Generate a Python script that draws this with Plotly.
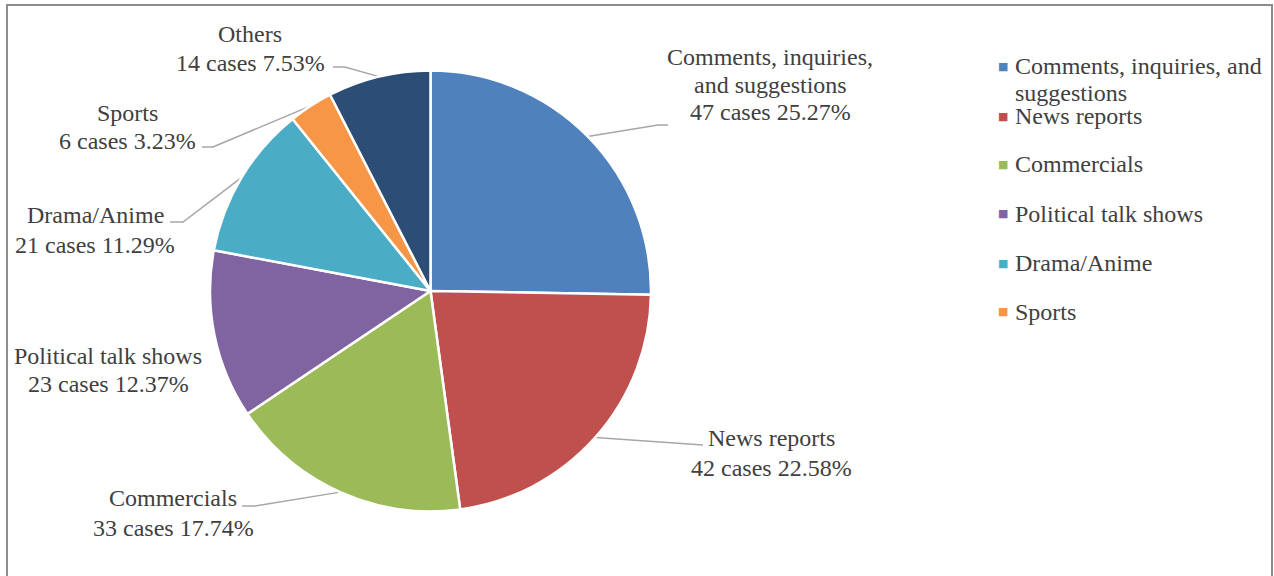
import math
import plotly.graph_objects as go

# ---------------- data ----------------
categories = ["Comments, inquiries, and suggestions", "News reports", "Commercials",
              "Political talk shows", "Drama/Anime", "Sports", "Others"]
cases = [47, 42, 33, 23, 21, 6, 14]
label_lines = [["Comments, inquiries,", "and suggestions"], ["News reports"], ["Commercials"],
               ["Political talk shows"], ["Drama/Anime"], ["Sports"], ["Others"]]
legend_lines = [["Comments, inquiries, and", "suggestions"], ["News reports"], ["Commercials"],
                ["Political talk shows"], ["Drama/Anime"], ["Sports"]]

# ---------------- style / layout ----------------
colors = ["#4F81BD", "#C0504D", "#9BBB59", "#8064A2", "#4BACC6", "#F79646", "#2C4D75"]
W, H = 1274, 576
CX, CY, R = 430.5, 291.0, 220.5
FONT = "Liberation Serif"
TXT = "#404040"
FS = 24

label_cx = [770, 771, 173, 108, 95, 127, 250]
label_y0 = [57, 438, 498, 356, 215, 113, 34]
label_gap = [27.5, 30, 30, 28, 30, 28, 28.5]
leader_elbow = [(658, 125), (698, 445), (255, 506), None, (183, 222), (213, 147), (345, 67)]
leader_end = [(668, 125), (703, 445), (242, 506), None, (170, 222), (202, 147), (333, 67)]

legend_x_sq = 1003
legend_x_txt = 1013
legend_y = [[66, 93], [116], [164], [213.5], [263], [311.5]]

total = sum(cases)

fig = go.Figure()
fig.add_trace(go.Pie(
    labels=categories, values=cases, sort=False, direction="clockwise", rotation=0,
    marker=dict(colors=colors, line=dict(color="white", width=2.5)),
    textinfo="none", showlegend=False, hoverinfo="label+value+percent",
    domain=dict(x=[(CX - R) / W, (CX + R) / W], y=[1 - (CY + R) / H, 1 - (CY - R) / H]),
))

annotations = []
cum = 0.0
for i, v in enumerate(cases):
    frac_mid = (cum + v / 2) / total
    cum += v
    th = 2 * math.pi * frac_mid
    ex, ey = CX + R * math.sin(th), CY - R * math.cos(th)
    if leader_end[i] is not None:
        xs = [ex, leader_elbow[i][0], leader_end[i][0]]
        ys = [ey, leader_elbow[i][1], leader_end[i][1]]
        fig.add_trace(go.Scatter(x=xs, y=ys, mode="lines", line=dict(color="#A6A6A6", width=1.5),
                                 hoverinfo="skip", showlegend=False))
    lines = label_lines[i] + [f"{v} cases {v / total * 100:.2f}%"]
    for k, t in enumerate(lines):
        annotations.append(dict(x=label_cx[i], y=label_y0[i] + k * label_gap[i], xref="x", yref="y",
                                text=t, showarrow=False, xanchor="center", yanchor="middle",
                                font=dict(family=FONT, size=FS, color=TXT)))

for i, lines in enumerate(legend_lines):
    annotations.append(dict(x=legend_x_sq, y=legend_y[i][0], xref="x", yref="y",
                            text="■", showarrow=False, xanchor="center", yanchor="middle",
                            font=dict(family="DejaVu Sans", size=11, color=colors[i])))
    for k, t in enumerate(lines):
        annotations.append(dict(x=legend_x_txt, y=legend_y[i][k], xref="x", yref="y",
                                text=t, showarrow=False, xanchor="left", yanchor="middle",
                                font=dict(family=FONT, size=FS, color=TXT)))

fig.update_layout(
    width=W, height=H, margin=dict(l=0, r=0, t=0, b=0),
    paper_bgcolor="white", plot_bgcolor="white", showlegend=False,
    xaxis=dict(visible=False, range=[0, W], fixedrange=True),
    yaxis=dict(visible=False, range=[H, 0], fixedrange=True),
    annotations=annotations,
    shapes=[dict(type="rect", xref="x", yref="y", x0=7, y0=5, x1=1272, y1=600,
                 line=dict(color="#8C8C8C", width=2), fillcolor="rgba(0,0,0,0)")],
)

fig.write_html("out.html", config={"displayModeBar": False},
               post_script="document.body.style.margin='0';")
